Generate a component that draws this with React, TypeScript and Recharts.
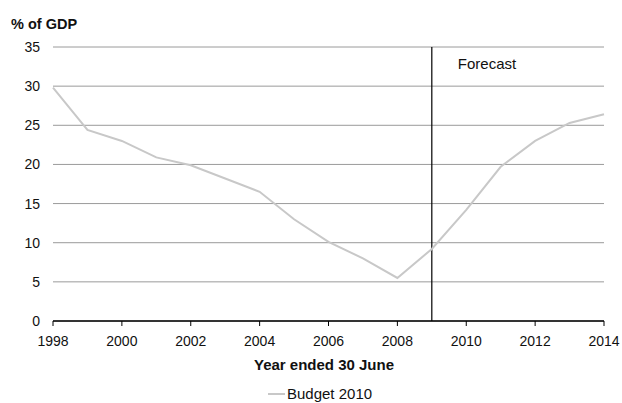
import React from "react";
import {
  LineChart,
  Line,
  XAxis,
  YAxis,
  CartesianGrid,
  ReferenceLine,
} from "recharts";

// Financial years (year ended 30 June)
const years = [
  1998, 1999, 2000, 2001, 2002, 2003, 2004, 2005, 2006, 2007, 2008, 2009, 2010,
  2011, 2012, 2013, 2014,
];

// Budget 2010 series, % of GDP
const budget2010 = [
  29.8, 24.4, 23.0, 20.9, 19.9, 18.2, 16.5, 13.0, 10.1, 8.0, 5.5, 9.2, 14.2,
  19.7, 23.0, 25.3, 26.4,
];

const xTicks = [1998, 2000, 2002, 2004, 2006, 2008, 2010, 2012, 2014];
const yTicks = [0, 5, 10, 15, 20, 25, 30, 35];
const forecastStart = 2009;

const data = years.map((year, i) => ({ year, value: budget2010[i] }));

const FONT = "'Liberation Sans', Arial, Helvetica, sans-serif";
const W = 622;
const H = 403;

const ForecastLabel = (props: any) => {
  const vb = props.viewBox || {};
  return (
    <text
      x={vb.x + 26}
      y={vb.y + 22}
      fontFamily={FONT}
      fontSize={15}
      fill="#111"
    >
      Forecast
    </text>
  );
};

export default function App() {
  return (
    <div
      style={{
        position: "absolute",
        left: 0,
        top: 0,
        width: W,
        height: H,
        background: "#fff",
        fontFamily: FONT,
      }}
    >
      <LineChart
        width={W}
        height={H}
        data={data}
        margin={{ top: 47, right: 18, left: 0, bottom: 52 }}
      >
        <CartesianGrid vertical={false} stroke="#9a9a9a" strokeWidth={1} />
        <XAxis
          dataKey="year"
          type="number"
          domain={[1998, 2014]}
          ticks={xTicks}
          height={30}
          axisLine={{ stroke: "#000", strokeWidth: 1.5 }}
          tickLine={{ stroke: "#000" }}
          tickSize={5}
          tickMargin={10}
          tick={{ fill: "#111", fontSize: 14, fontFamily: FONT }}
          interval={0}
        />
        <YAxis
          type="number"
          domain={[0, 35]}
          ticks={yTicks}
          width={53}
          axisLine={false}
          tickLine={false}
          tickSize={0}
          tickMargin={13}
          tick={{ fill: "#111", fontSize: 14, fontFamily: FONT }}
          interval={0}
        />
        <ReferenceLine
          x={forecastStart}
          stroke="#000"
          strokeWidth={1.2}
          label={<ForecastLabel />}
        />
        <Line
          type="linear"
          dataKey="value"
          name="Budget 2010"
          stroke="#c8c8c8"
          strokeWidth={2}
          dot={false}
          isAnimationActive={false}
        />
        <text
          x={11}
          y={29}
          fontFamily={FONT}
          fontSize={14.5}
          fontWeight="bold"
          fill="#111"
        >
          % of GDP
        </text>
        <text
          x={324}
          y={370}
          textAnchor="middle"
          fontFamily={FONT}
          fontSize={15}
          fontWeight="bold"
          fill="#111"
        >
          Year ended 30 June
        </text>
        <line x1={268} x2={285} y1={394} y2={394} stroke="#c8c8c8" strokeWidth={2} />
        <text x={287} y={399} fontFamily={FONT} fontSize={15} fill="#111">
          Budget 2010
        </text>
      </LineChart>
    </div>
  );
}
